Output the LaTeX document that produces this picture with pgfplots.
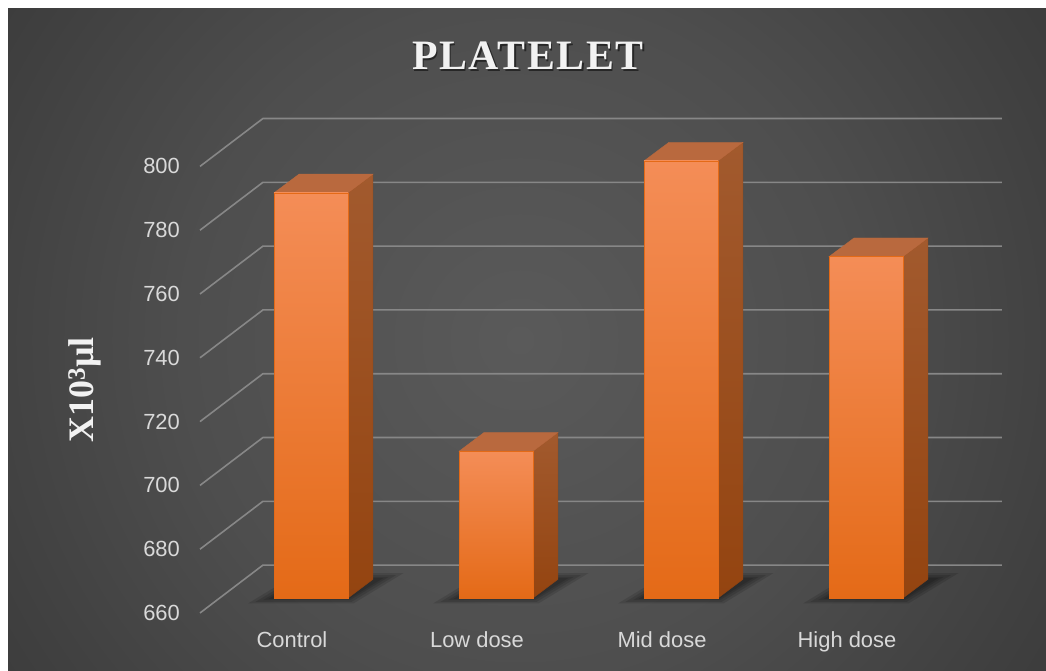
\documentclass[border=0pt]{standalone}
\usepackage{pgfplots}
\pgfplotsset{compat=1.18}
\usepackage{fontspec}
\setmainfont{Liberation Serif}
\newfontfamily\lab{Liberation Sans}
\definecolor{bgA}{HTML}{5A5A5A}
\definecolor{bgB}{HTML}{4E4E4E}
\definecolor{bgC}{HTML}{404040}
\definecolor{bgD}{HTML}{333333}
\definecolor{bgE}{HTML}{2A2A2A}
\definecolor{bgF}{HTML}{272727}
\definecolor{gridc}{HTML}{878787}
\definecolor{tickc}{HTML}{D9D9D9}
\definecolor{titlec}{HTML}{F2F2F2}
\definecolor{frontT}{HTML}{F48D57}
\definecolor{frontM}{HTML}{F57E2C}
\definecolor{frontB}{HTML}{E46A17}
\definecolor{sideT}{HTML}{A25A2E}
\definecolor{sideB}{HTML}{944410}
\definecolor{topc}{HTML}{B9693E}
\pgfdeclareradialshading{bgshade}{\pgfpoint{0bp}{0bp}}{color(0bp)=(bgA); color(15bp)=(bgB); color(25bp)=(bgC); color(35bp)=(bgD); color(45bp)=(bgE); color(50bp)=(bgF)}
\pgfplotsset{
  shadowA/.style={fill=black, draw=none, opacity=0.12},
}
\begin{document}
\begin{tikzpicture}
\useasboundingbox (0,0) rectangle (1046bp,671bp);
\fill[white] (0,0) rectangle (1046bp,671bp);
\begin{scope}
\clip (8bp,0) rectangle (1046bp,662bp);
\shade[shading=bgshade] (-40bp,-229bp) rectangle (1080bp,891bp);
\end{scope}
\begin{axis}[
  at={(183.35bp,41.1bp)}, anchor=south west,
  x=185bp, y=3.19bp,
  xmin=-0.69, xmax=3.95, ymin=650, ymax=820,
  axis line style={draw=none},
  major tick length=0,
  xtick={0,1,2,3},
  xticklabels={Control,Low dose,Mid dose,High dose},
  ytick={660,680,...,800},
  tick label style={font=\lab\fontsize{22}{26}\selectfont, text=tickc},
  /pgf/number format/assume math mode=true,
  x tick label style={anchor=base, xshift=-19bp, yshift=-18bp},
  y tick label style={yshift=-15bp},
  clip=false,
]
% gridlines (floor-front diagonal + back wall)
\addplot[gridc, line width=1.6bp] coordinates {(-0.6,655.3) (-0.26,670.3) (3.735,670.3)};
\addplot[gridc, line width=1.6bp] coordinates {(-0.6,675.3) (-0.26,690.3) (3.735,690.3)};
\addplot[gridc, line width=1.6bp] coordinates {(-0.6,695.3) (-0.26,710.3) (3.735,710.3)};
\addplot[gridc, line width=1.6bp] coordinates {(-0.6,715.3) (-0.26,730.3) (3.735,730.3)};
\addplot[gridc, line width=1.6bp] coordinates {(-0.6,735.3) (-0.26,750.3) (3.735,750.3)};
\addplot[gridc, line width=1.6bp] coordinates {(-0.6,755.3) (-0.26,770.3) (3.735,770.3)};
\addplot[gridc, line width=1.6bp] coordinates {(-0.6,775.3) (-0.26,790.3) (3.735,790.3)};
\addplot[gridc, line width=1.6bp] coordinates {(-0.6,795.3) (-0.26,810.3) (3.735,810.3)};
% soft floor shadows (layered)
\addplot[shadowA] coordinates {(-0.34,658.3) (0.23,658.3) (0.50,667.8) (-0.07,667.8)} --cycle;
\addplot[shadowA] coordinates {(-0.30,658.8) (0.22,658.8) (0.46,667.2) (-0.06,667.2)} --cycle;
\addplot[shadowA] coordinates {(-0.26,659.3) (0.21,659.3) (0.42,666.6) (-0.05,666.6)} --cycle;
\addplot[shadowA] coordinates {(-0.23,659.7) (0.205,659.7) (0.39,666.2) (-0.05,666.2)} --cycle;
\addplot[shadowA] coordinates {(0.66,658.3) (1.23,658.3) (1.50,667.8) (0.93,667.8)} --cycle;
\addplot[shadowA] coordinates {(0.70,658.8) (1.22,658.8) (1.46,667.2) (0.94,667.2)} --cycle;
\addplot[shadowA] coordinates {(0.74,659.3) (1.21,659.3) (1.42,666.6) (0.95,666.6)} --cycle;
\addplot[shadowA] coordinates {(0.77,659.7) (1.205,659.7) (1.39,666.2) (0.95,666.2)} --cycle;
\addplot[shadowA] coordinates {(1.66,658.3) (2.23,658.3) (2.50,667.8) (1.93,667.8)} --cycle;
\addplot[shadowA] coordinates {(1.70,658.8) (2.22,658.8) (2.46,667.2) (1.94,667.2)} --cycle;
\addplot[shadowA] coordinates {(1.74,659.3) (2.21,659.3) (2.42,666.6) (1.95,666.6)} --cycle;
\addplot[shadowA] coordinates {(1.77,659.7) (2.205,659.7) (2.39,666.2) (1.95,666.2)} --cycle;
\addplot[shadowA] coordinates {(2.66,658.3) (3.23,658.3) (3.50,667.8) (2.93,667.8)} --cycle;
\addplot[shadowA] coordinates {(2.70,658.8) (3.22,658.8) (3.46,667.2) (2.94,667.2)} --cycle;
\addplot[shadowA] coordinates {(2.74,659.3) (3.21,659.3) (3.42,666.6) (2.95,666.6)} --cycle;
\addplot[shadowA] coordinates {(2.77,659.7) (3.205,659.7) (3.39,666.2) (2.95,666.2)} --cycle;
% Control 787
\addplot[draw=sideB, line width=0.4bp, top color=sideT, bottom color=sideB] coordinates {(0.2,660) (0.335,665.86) (0.335,792.86) (0.2,787)} --cycle;
\addplot[draw=topc, line width=0.4bp, fill=topc] coordinates {(-0.2,787) (-0.065,792.86) (0.335,792.86) (0.2,787)} --cycle;
\addplot[draw=frontB, line width=0.4bp, top color=frontT, middle color=frontM, bottom color=frontB] coordinates {(-0.2,660) (0.2,660) (0.2,787) (-0.2,787)} --cycle;
% Low dose 706
\addplot[draw=sideB, line width=0.4bp, top color=sideT, bottom color=sideB] coordinates {(1.2,660) (1.335,665.86) (1.335,711.86) (1.2,706)} --cycle;
\addplot[draw=topc, line width=0.4bp, fill=topc] coordinates {(0.8,706) (0.935,711.86) (1.335,711.86) (1.2,706)} --cycle;
\addplot[draw=frontB, line width=0.4bp, top color=frontT, middle color=frontM, bottom color=frontB] coordinates {(0.8,660) (1.2,660) (1.2,706) (0.8,706)} --cycle;
% Mid dose 797
\addplot[draw=sideB, line width=0.4bp, top color=sideT, bottom color=sideB] coordinates {(2.2,660) (2.335,665.86) (2.335,802.86) (2.2,797)} --cycle;
\addplot[draw=topc, line width=0.4bp, fill=topc] coordinates {(1.8,797) (1.935,802.86) (2.335,802.86) (2.2,797)} --cycle;
\addplot[draw=frontB, line width=0.4bp, top color=frontT, middle color=frontM, bottom color=frontB] coordinates {(1.8,660) (2.2,660) (2.2,797) (1.8,797)} --cycle;
% High dose 767
\addplot[draw=sideB, line width=0.4bp, top color=sideT, bottom color=sideB] coordinates {(3.2,660) (3.335,665.86) (3.335,772.86) (3.2,767)} --cycle;
\addplot[draw=topc, line width=0.4bp, fill=topc] coordinates {(2.8,767) (2.935,772.86) (3.335,772.86) (3.2,767)} --cycle;
\addplot[draw=frontB, line width=0.4bp, top color=frontT, middle color=frontM, bottom color=frontB] coordinates {(2.8,660) (3.2,660) (3.2,767) (2.8,767)} --cycle;
\end{axis}
\node[text=black, opacity=0.5, font=\fontsize{42}{48}\selectfont\bfseries\addfontfeature{LetterSpace=4}] at (529.5bp,613.5bp) {PLATELET};
\node[text=titlec, font=\fontsize{42}{48}\selectfont\bfseries\addfontfeature{LetterSpace=4}] at (528bp,615bp) {PLATELET};
\node[rotate=90, text=titlec, font=\fontsize{36}{40}\selectfont\bfseries] at (85bp,281bp) {X10\textsuperscript{3}µl};
\end{tikzpicture}
\end{document}
